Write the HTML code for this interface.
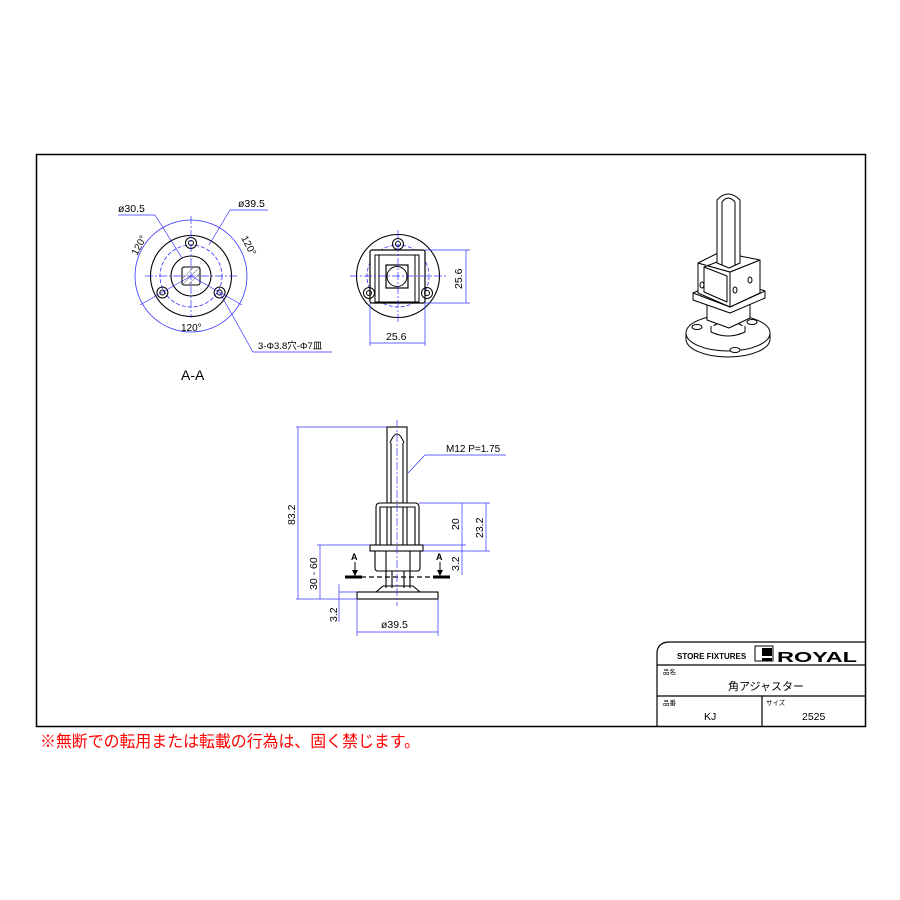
<!DOCTYPE html>
<html><head><meta charset="utf-8"><style>
html,body{margin:0;padding:0;background:#fff;width:900px;height:900px;overflow:hidden}
svg{display:block}
text{font-family:"Liberation Sans","Noto Sans CJK JP",sans-serif}
</style></head><body>
<svg width="900" height="900" viewBox="0 0 900 900" xmlns="http://www.w3.org/2000/svg">
<rect x="0" y="0" width="900" height="900" fill="#fff"/>
<rect x="36.5" y="154.5" width="829" height="572" fill="none" stroke="#000" stroke-width="1.5"/>

<!-- View 1 -->
<g fill="none">
<circle cx="191" cy="276" r="56" stroke="#33f" stroke-width="0.8"/>
<circle cx="191" cy="276" r="31" stroke="#33f" stroke-width="0.8" stroke-dasharray="4,2"/>
<circle cx="191" cy="276" r="40.5" stroke="#000" stroke-width="1.1"/>
<circle cx="191" cy="276" r="20" stroke="#000" stroke-width="1.1"/>
<rect x="182" y="267" width="18" height="18" rx="2" stroke="#000" stroke-width="1.1"/>
<path d="M183 284 L199 268 M183 278 L193 268 M189 284 L199 274" stroke="#888" stroke-width="0.6"/>
<circle cx="191" cy="243" r="5.5" stroke="#000"/><circle cx="191" cy="243" r="2.5" stroke="#000"/>
<circle cx="162.4" cy="292.5" r="5.5" stroke="#000"/><circle cx="162.4" cy="292.5" r="2.5" stroke="#000"/>
<circle cx="219.6" cy="292.5" r="5.5" stroke="#000"/><circle cx="219.6" cy="292.5" r="2.5" stroke="#000"/>
<g stroke="#33f" stroke-width="0.7">
<line x1="145" y1="276" x2="237" y2="276" stroke-dasharray="8,2,2,2"/>
<line x1="191" y1="216" x2="191" y2="318" stroke-dasharray="8,2,2,2"/>
<line x1="191" y1="276" x2="140" y2="305"/>
<line x1="191" y1="276" x2="242" y2="305"/>
<line x1="118" y1="215" x2="155" y2="215"/><line x1="155" y1="215" x2="182" y2="258"/>
<line x1="230" y1="210" x2="268" y2="210"/><line x1="230" y1="210" x2="209" y2="245"/>
<line x1="219.6" y1="292.5" x2="253" y2="352"/><line x1="253" y1="352" x2="332" y2="352"/>
</g>
</g>
<text x="118" y="212" font-size="10.5">ø30.5</text>
<text x="238" y="207" font-size="10.5">ø39.5</text>
<text x="181" y="331" font-size="10">120°</text>
<text x="0" y="0" font-size="10" transform="translate(137,256) rotate(-62)">120°</text>
<text x="0" y="0" font-size="10" transform="translate(241,238) rotate(62)">120°</text>
<text x="258" y="349" font-size="9.5">3-Φ3.8穴-Φ7皿</text>
<text x="181" y="380" font-size="14">A-A</text>

<!-- View 2 -->
<g fill="none">
<circle cx="398" cy="276" r="31" stroke="#33f" stroke-width="0.8" stroke-dasharray="4,2"/>
<circle cx="398" cy="276" r="41.5" stroke="#000" stroke-width="1.1"/>
<rect x="370" y="250" width="55" height="53" rx="2" stroke="#000" stroke-width="1.2" fill="#fff"/>
<rect x="375" y="255" width="44" height="47" stroke="#000"/>
<line x1="379" y1="255" x2="379" y2="302" stroke="#000"/><line x1="415" y1="255" x2="415" y2="302" stroke="#000"/>
<rect x="386" y="265" width="22" height="23" stroke="#000" stroke-width="1.2"/>
<circle cx="397" cy="276.5" r="10" stroke="#000"/>
<circle cx="398" cy="244" r="5.5" stroke="#000"/><circle cx="398" cy="244" r="2.5" stroke="#000"/>
<circle cx="369" cy="293" r="5.5" stroke="#000"/><circle cx="369" cy="293" r="2.5" stroke="#000"/>
<circle cx="427" cy="293" r="5.5" stroke="#000"/><circle cx="427" cy="293" r="2.5" stroke="#000"/>
<g stroke="#33f" stroke-width="0.7">
<line x1="350" y1="276" x2="446" y2="276" stroke-dasharray="8,2,2,2"/>
<line x1="398" y1="230" x2="398" y2="322" stroke-dasharray="8,2,2,2"/>
<line x1="425" y1="250" x2="470" y2="250"/><line x1="425" y1="303" x2="470" y2="303"/>
<line x1="466" y1="250" x2="466" y2="303"/>
<line x1="370" y1="303" x2="370" y2="346"/><line x1="425" y1="303" x2="425" y2="346"/>
<line x1="370" y1="343" x2="425" y2="343"/>
</g>
</g>
<text x="0" y="0" font-size="10.5" transform="translate(462,289) rotate(-90)">25.6</text>
<text x="386" y="340" font-size="10.5">25.6</text>

<!-- Side view -->
<g fill="none" stroke="#000" stroke-width="1.1">
<rect x="387" y="427" width="20" height="76" fill="#fff"/>
<path d="M390 443 Q397 425 404 443"/>
<line x1="391" y1="443" x2="391" y2="503"/><line x1="403" y1="443" x2="403" y2="503"/>
<path d="M376 545 L376 507 Q376 503 380 503 L415 503 Q419 503 419 507 L419 545" fill="#fff"/>
<path d="M380 545 L380 507 L415 507 L415 545"/>
<line x1="387" y1="507" x2="387" y2="545"/><line x1="407" y1="507" x2="407" y2="545"/>
<line x1="391" y1="507" x2="391" y2="545"/><line x1="403" y1="507" x2="403" y2="545"/>
<rect x="370" y="545" width="53" height="6" fill="#fff"/>
<path d="M375 551 L375 568 Q375 571 378 571 L417 571 Q420 571 420 568 L420 551"/>
<line x1="386" y1="551" x2="386" y2="571"/><line x1="410" y1="551" x2="410" y2="571"/>
<line x1="386" y1="571" x2="386" y2="588"/><line x1="392" y1="571" x2="392" y2="588"/>
<line x1="404" y1="571" x2="404" y2="588"/><line x1="410" y1="571" x2="410" y2="588"/>
<path d="M376 592 L383 586 L413 586 L420 592"/>
<rect x="357" y="592" width="81" height="7" fill="#fff"/>
</g>
<line x1="345" y1="577" x2="450" y2="577" stroke="#000" stroke-width="1.2" stroke-dasharray="5,3"/>
<line x1="345" y1="577" x2="362" y2="577" stroke="#000" stroke-width="3"/>
<line x1="433" y1="577" x2="450" y2="577" stroke="#000" stroke-width="3"/>
<line x1="355" y1="562" x2="355" y2="576" stroke="#000"/><path d="M352 570 L355 576 L358 570Z"/>
<line x1="440" y1="562" x2="440" y2="576" stroke="#000"/><path d="M437 570 L440 576 L443 570Z"/>
<text x="351" y="560" font-size="9" font-weight="bold">A</text>
<text x="436" y="560" font-size="9" font-weight="bold">A</text>
<g stroke="#33f" stroke-width="0.7" fill="none">
<line x1="397" y1="420" x2="397" y2="606" stroke-dasharray="8,2,2,2"/>
<line x1="296" y1="427" x2="387" y2="427"/><line x1="298" y1="427" x2="298" y2="599"/>
<line x1="296" y1="599" x2="357" y2="599"/>
<line x1="317" y1="545" x2="370" y2="545"/><line x1="320" y1="545" x2="320" y2="599"/>
<line x1="339" y1="592" x2="357" y2="592"/><line x1="339" y1="584" x2="339" y2="622"/>
<line x1="419" y1="503" x2="490" y2="503"/><line x1="423" y1="551" x2="490" y2="551"/>
<line x1="423" y1="545" x2="466" y2="545"/>
<line x1="462" y1="503" x2="462" y2="545"/><line x1="486" y1="503" x2="486" y2="551"/>
<line x1="462" y1="545" x2="462" y2="575"/>
<line x1="357" y1="599" x2="357" y2="636"/><line x1="438" y1="599" x2="438" y2="636"/>
<line x1="357" y1="632" x2="438" y2="632"/>
<line x1="408" y1="473" x2="425" y2="455"/><line x1="425" y1="455" x2="506" y2="455"/>
</g>
<text x="0" y="0" font-size="10.5" transform="translate(295,525) rotate(-90)">83.2</text>
<text x="0" y="0" font-size="10.5" transform="translate(317,590) rotate(-90)">30 - 60</text>
<text x="0" y="0" font-size="10.5" transform="translate(337,622) rotate(-90)">3.2</text>
<text x="0" y="0" font-size="10.5" transform="translate(459,530) rotate(-90)">20</text>
<text x="0" y="0" font-size="10.5" transform="translate(483,538) rotate(-90)">23.2</text>
<text x="0" y="0" font-size="10.5" transform="translate(459,571) rotate(-90)">3.2</text>
<text x="381" y="628" font-size="10.5">ø39.5</text>
<text x="446" y="452" font-size="10">M12 P=1.75</text>

<!-- 3D view -->
<g fill="#fff" stroke="#000" stroke-width="1" stroke-linejoin="round">
<path d="M686 333 L686 339 A42 18 0 0 0 770 339 L770 333"/>
<ellipse cx="728" cy="333" rx="42" ry="18"/>
<ellipse cx="697" cy="327" rx="5" ry="2.5"/><ellipse cx="735" cy="350" rx="5" ry="2.5"/><ellipse cx="752" cy="322" rx="5" ry="2.5"/>
<ellipse cx="728" cy="328" rx="15" ry="6"/>
<path d="M711 326 L711 332 Q728 340 745 332 L745 326"/>
<path d="M707 305 L707 320 L729 328 L750 318 L750 303Z"/>
<path d="M693 293 L693 300 L730 313 L765 298 L765 291"/>
<path d="M693 293 L730 307 L765 291 L727 278Z"/>
<path d="M698 263 L698 293 L730 307 L760 293 L760 260 L730 272Z"/>
<path d="M698 263 L720 252 L760 260 L730 272Z"/>
<path d="M704 267 L727 276 L727 302 L704 292Z" fill="#fff"/>
<line x1="730" y1="272" x2="730" y2="307"/>
<path d="M717 200 Q728 188 740 200 L740 263 L729 268 L717 263Z"/>
<path d="M722 202 L722 265 M735 202 L735 265 M722 202 Q728 194 735 202"/>
<path d="M704 267 L717 262 L717 256"/>
<ellipse cx="702" cy="285" rx="2" ry="3"/><ellipse cx="735" cy="290" rx="2" ry="3"/><ellipse cx="750" cy="280" rx="2" ry="3"/>
</g>

<!-- Title block -->
<g fill="none" stroke="#000" stroke-width="1.2">
<path d="M657 726 L657 652 Q658 643 668 642 L865 642"/>
<line x1="657" y1="665" x2="865" y2="665"/>
<line x1="657" y1="696" x2="865" y2="696"/>
<line x1="762" y1="696" x2="762" y2="726"/>
</g>
<text x="677" y="659" font-size="8" font-weight="bold">STORE FIXTURES</text>
<rect x="755" y="646" width="18" height="15" fill="none" stroke="#000"/>
<rect x="762" y="648" width="10" height="8" fill="#000"/>
<rect x="762" y="658" width="10" height="3" fill="#000"/>
<text x="777" y="662" font-size="15" font-weight="bold" textLength="80" lengthAdjust="spacingAndGlyphs">ROYAL</text>
<text x="663" y="674" font-size="6.5">品名</text>
<text x="728" y="690" font-size="11">角アジャスター</text>
<text x="663" y="705" font-size="6.5">品番</text>
<text x="766" y="705" font-size="6.5">サイズ</text>
<text x="704" y="720" font-size="10.5">KJ</text>
<text x="802" y="720" font-size="10.5">2525</text>

<text x="40" y="747" font-size="16.5" fill="#f00" textLength="380" lengthAdjust="spacingAndGlyphs">※無断での転用または転載の行為は、固く禁じます。</text>
</svg>
</body></html>
